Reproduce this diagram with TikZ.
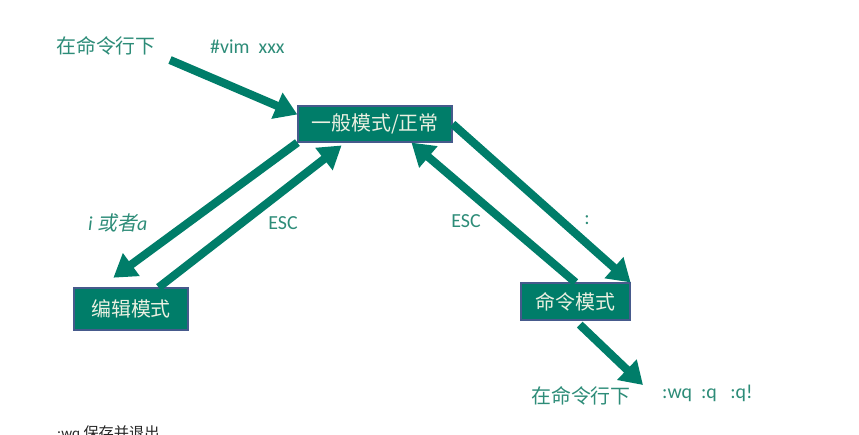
\documentclass[tikz,border=0pt]{standalone}
\usepackage{fontspec}
\setmainfont{Carlito}
\newfontfamily\cjk{Noto Sans CJK SC}
\newfontfamily\cjkit{Noto Sans CJK SC}[FakeSlant=0.2]
\usetikzlibrary{arrows.meta}
\definecolor{vimteal}{RGB}{0,125,105}
\definecolor{vimlabel}{RGB}{45,140,120}
\definecolor{vimedge}{RGB}{70,90,140}
\definecolor{vimtext}{RGB}{235,240,225}
\begin{document}
\begin{tikzpicture}[x=0.03cm, y=-0.03cm,
  modebox/.style={draw=vimedge, line width=1pt, fill=vimteal, text=vimtext, inner sep=0pt, font=\fontsize{17}{20}\selectfont\cjk},
  lbl/.style={text=vimlabel, inner sep=0pt, font=\fontsize{17}{20}\selectfont},
  bigarrow/.style={draw=vimteal, line width=7pt, -{Triangle[length=19pt, width=23pt]}}]
\useasboundingbox (0,0) rectangle (859,434);

% the three modes
\node[modebox, minimum width=4.62cm, minimum height=1.08cm] (normal) at (375,124) {一般模式/正常};
\node[modebox, minimum width=3.42cm, minimum height=1.26cm] (edit) at (131,309) {编辑模式};
\node[modebox, minimum width=3.27cm, minimum height=1.11cm] (command) at (575.5,301.5) {命令模式};

% labels
\node[lbl, font=\fontsize{17}{20}\selectfont\cjk] (shell1) at (106,46) {在命令行下};
\node[lbl, anchor=west] (vim) at (210,47) {\#vim\ \ xxx};
\node[lbl, anchor=west] (insert) at (88,223) {\itshape i {\cjkit 或者}a};
\node[lbl] (esc1) at (283,223) {ESC};
\node[lbl] (esc2) at (466,221) {ESC};
\node[lbl] (colon) at (587,220) {:};
\node[lbl, font=\fontsize{17}{20}\selectfont\cjk] (shell2) at (581,396) {在命令行下};
\node[lbl, anchor=west] (quit) at (662,393) {:wq\ \ :q\ \ \ :q!};
\node[anchor=west, inner sep=0pt, text=black!85, font=\fontsize{13}{15}\selectfont] (note) at (57,433) {:wq {\cjk 保存并退出}};

\coordinate (start) at (170,60);
\coordinate (finish) at (643,385);

% arrows
\draw[bigarrow] (start) -- (normal.173);
\draw[bigarrow, shorten >=14pt] (normal.south west) -- (edit.145);
\draw[bigarrow, shorten >=4pt] (edit.38) -- (normal.212);
\draw[bigarrow] (command.north) -- (normal.333);
\draw[bigarrow] (normal.east) -- (command.north east);
\draw[bigarrow, shorten <=5pt] (command.south) -- (finish);
\end{tikzpicture}
\end{document}
